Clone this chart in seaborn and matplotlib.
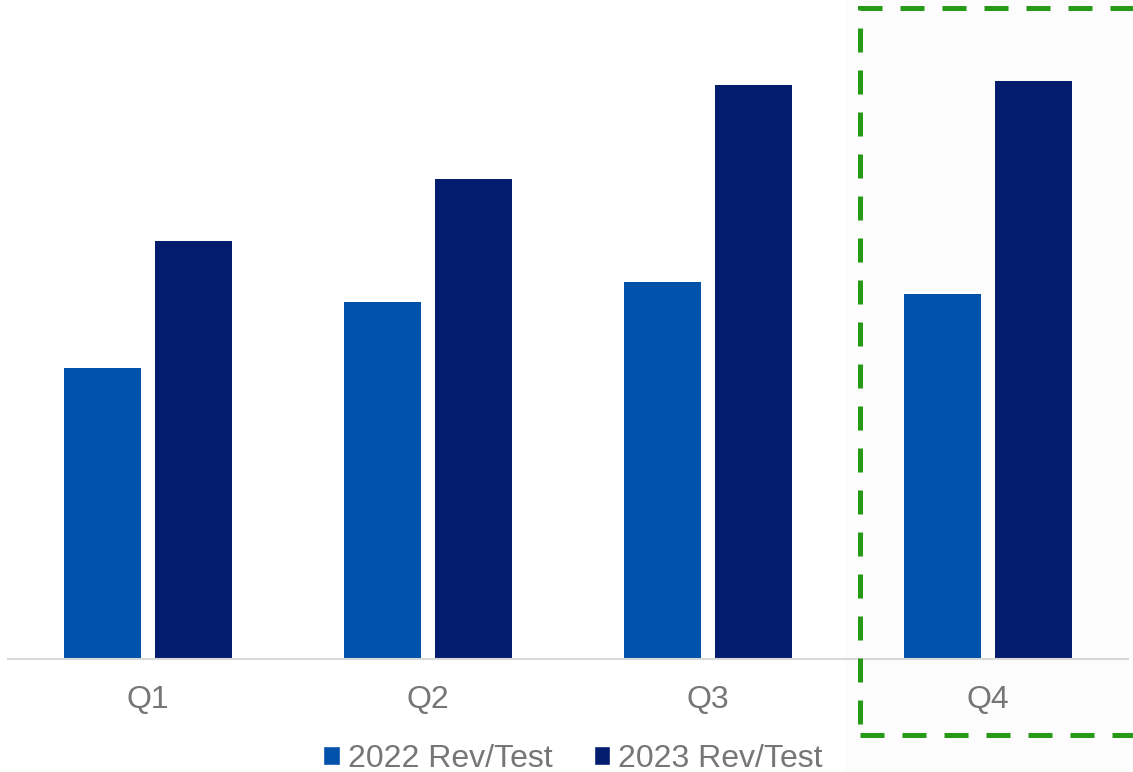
import numpy as np
import pandas as pd
import seaborn as sns
import matplotlib.pyplot as plt
from matplotlib.patches import Patch, Rectangle

# data (arbitrary units - no value axis shown)
quarters = ['Q1', 'Q2', 'Q3', 'Q4']
rev_2022 = [291, 357, 377, 365]
rev_2023 = [418, 480, 574, 578]
series = ['2022 Rev/Test', '2023 Rev/Test']

# colors
blue = '#0052AB'
navy = '#041C6E'
green = '#269A17'
text_gray = '#767676'

df = pd.DataFrame({
    'Quarter': quarters * 2,
    'Value': rev_2022 + rev_2023,
    'Series': [series[0]] * len(quarters) + [series[1]] * len(quarters),
})

sns.set_style('white')
plt.rcParams['font.family'] = ['Liberation Sans', 'DejaVu Sans']

fig = plt.figure(figsize=(11.33, 7.72), dpi=100)
ax = fig.add_axes([8 / 1133, (772 - 659) / 772, 1120 / 1133, 640 / 772])

# very faint grey shade behind the highlighted quarter
fig.patches.append(Rectangle((845 / 1133, 0), 1, 1, transform=fig.transFigure,
                             facecolor='#fcfcfc', edgecolor='none', zorder=-10))
ax.set_facecolor('none')

sns.barplot(data=df, x='Quarter', y='Value', hue='Series', palette=[blue, navy],
            width=0.65, gap=0.16, saturation=1, linewidth=0, legend=False, ax=ax)

ax.set_xlim(-0.5, 3.5)
ax.set_ylim(0, 640)
ax.set_xlabel('')
ax.set_ylabel('')
ax.set_yticks([])
ax.tick_params(axis='x', length=0, labelsize=23, labelcolor=text_gray, pad=18.5)
for s in ['top', 'right', 'left']:
    ax.spines[s].set_visible(False)
ax.spines['bottom'].set_color('#d9d9d9')
ax.spines['bottom'].set_linewidth(1.5)

# legend
handles = [Patch(facecolor=blue), Patch(facecolor=navy)]
fig.legend(handles, series, loc='center', bbox_to_anchor=(573 / 1133, 1 - 759 / 772),
           ncol=2, frameon=False, fontsize=23, labelcolor=text_gray,
           handlelength=0.52, handleheight=0.52, handletextpad=0.25,
           columnspacing=1.3, borderpad=0)

# green dashed highlight box around Q4
box = Rectangle((860 / 1133, 1 - 735 / 772), 0.5, (735 - 8) / 772,
                transform=fig.transFigure, fill=False, edgecolor=green,
                linewidth=3.6, linestyle=(0, (4.8, 3.6)), clip_on=False)
fig.patches.append(box)

fig.savefig('out.png', dpi=100)
